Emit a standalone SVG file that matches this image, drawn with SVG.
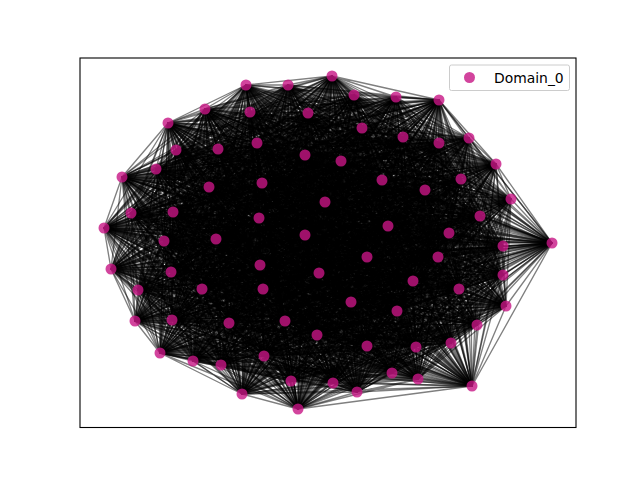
<svg xmlns="http://www.w3.org/2000/svg" width="640" height="480" viewBox="0 0 640 480">
<style>
.e polygon{fill:none;stroke:#000;stroke-opacity:.5;stroke-width:1.35;stroke-linejoin:round}
.nd circle{fill:#c71585;fill-opacity:.8}
.frame{fill:none;stroke:#000;stroke-width:1.1}
.lg{fill:#fff;fill-opacity:.8;stroke:#ccc;stroke-width:1}
.lt{font-family:"DejaVu Sans","Liberation Sans",sans-serif;font-size:13.9px;fill:#000}
</style>
<rect width="640" height="480" fill="#fff"/>
<g id="connectors" class="e">
<polygon points="552 243 332 76 288 85 333 383 246 85 291 381 205 109 392 373 168 123 264 356 122 177 221 365 104 228 451 343 111 269 416 347 135 321 367 346 160 353 477 325 193 361 317 335 242 394 285 321 298 409 229 323 357 392 172 320 418 379 397 311 472 386 351 302 506 306 459 289 503 275 263 289 503 246 202 289 511 199 138 290 496 164 413 281 469 138 171 272 439 100 319 273 396 97 260 265 354 95 438 257 250 112 367 257 308 113 305 235 362 128 216 239 403 137 164 241 439 143 449 233 176 150 388 226 218 149 259 218 257 143 480 216 305 155 325 202 341 161 173 212 156 169 131 213 382 180 262 183 461 179 209 187 425 190"/>
<polygon points="552 243 288 85 246 85 332 76 205 109 333 383 168 123 291 381 122 177 392 373 104 228 264 356 111 269 221 365 135 321 451 343 160 353 416 347 193 361 367 346 242 394 477 325 298 409 317 335 357 392 285 321 418 379 229 323 472 386 172 320 506 306 397 311 503 275 351 302 503 246 459 289 511 199 263 289 496 164 202 289 469 138 138 290 439 100 413 281 396 97 171 272 354 95 319 273 250 112 260 265 308 113 438 257 362 128 367 257 403 137 305 235 439 143 216 239 176 150 164 241 218 149 449 233 257 143 388 226 305 155 259 218 341 161 480 216 156 169 325 202 382 180 173 212 461 179 131 213 425 190 262 183 209 187"/>
<polygon points="552 243 246 85 205 109 288 85 168 123 332 76 122 177 333 383 104 228 291 381 111 269 392 373 135 321 264 356 160 353 221 365 193 361 451 343 242 394 416 347 298 409 367 346 357 392 477 325 418 379 317 335 472 386 285 321 506 306 229 323 503 275 172 320 503 246 397 311 511 199 351 302 496 164 459 289 469 138 263 289 439 100 202 289 396 97 138 290 354 95 413 281 250 112 171 272 308 113 319 273 362 128 260 265 403 137 438 257 439 143 367 257 176 150 305 235 218 149 216 239 257 143 164 241 305 155 449 233 341 161 388 226 156 169 259 218 382 180 480 216 461 179 325 202 425 190 173 212 209 187 131 213 262 183"/>
<polygon points="552 243 205 109 168 123 246 85 122 177 288 85 104 228 332 76 111 269 333 383 135 321 291 381 160 353 392 373 193 361 264 356 242 394 221 365 298 409 451 343 357 392 416 347 418 379 367 346 472 386 477 325 506 306 317 335 503 275 285 321 503 246 229 323 511 199 172 320 496 164 397 311 469 138 351 302 439 100 459 289 396 97 263 289 354 95 202 289 250 112 138 290 308 113 413 281 362 128 171 272 403 137 319 273 439 143 260 265 176 150 438 257 218 149 367 257 257 143 305 235 305 155 216 239 341 161 164 241 156 169 449 233 382 180 388 226 461 179 259 218 425 190 480 216 209 187 325 202 262 183 173 212 131 213"/>
<polygon points="552 243 168 123 122 177 205 109 104 228 246 85 111 269 288 85 135 321 332 76 160 353 333 383 193 361 291 381 242 394 392 373 298 409 264 356 357 392 221 365 418 379 451 343 472 386 416 347 506 306 367 346 503 275 477 325 503 246 317 335 511 199 285 321 496 164 229 323 469 138 172 320 439 100 397 311 396 97 351 302 354 95 459 289 250 112 263 289 308 113 202 289 362 128 138 290 403 137 413 281 439 143 171 272 176 150 319 273 218 149 260 265 257 143 438 257 305 155 367 257 341 161 305 235 156 169 216 239 382 180 164 241 461 179 449 233 425 190 388 226 209 187 259 218 262 183 480 216 131 213 325 202 173 212"/>
<polygon points="552 243 122 177 104 228 168 123 111 269 205 109 135 321 246 85 160 353 288 85 193 361 332 76 242 394 333 383 298 409 291 381 357 392 392 373 418 379 264 356 472 386 221 365 506 306 451 343 503 275 416 347 503 246 367 346 511 199 477 325 496 164 317 335 469 138 285 321 439 100 229 323 396 97 172 320 354 95 397 311 250 112 351 302 308 113 459 289 362 128 263 289 403 137 202 289 439 143 138 290 176 150 413 281 218 149 171 272 257 143 319 273 305 155 260 265 341 161 438 257 156 169 367 257 382 180 305 235 461 179 216 239 425 190 164 241 209 187 449 233 262 183 388 226 131 213 259 218 173 212 480 216 325 202"/>
<polygon points="552 243 104 228 111 269 122 177 135 321 168 123 160 353 205 109 193 361 246 85 242 394 288 85 298 409 332 76 357 392 333 383 418 379 291 381 472 386 392 373 506 306 264 356 503 275 221 365 503 246 451 343 511 199 416 347 496 164 367 346 469 138 477 325 439 100 317 335 396 97 285 321 354 95 229 323 250 112 172 320 308 113 397 311 362 128 351 302 403 137 459 289 439 143 263 289 176 150 202 289 218 149 138 290 257 143 413 281 305 155 171 272 341 161 319 273 156 169 260 265 382 180 438 257 461 179 367 257 425 190 305 235 209 187 216 239 262 183 164 241 131 213 449 233 173 212 388 226 325 202 259 218 480 216"/>
<polygon points="552 243 111 269 135 321 104 228 160 353 122 177 193 361 168 123 242 394 205 109 298 409 246 85 357 392 288 85 418 379 332 76 472 386 333 383 506 306 291 381 503 275 392 373 503 246 264 356 511 199 221 365 496 164 451 343 469 138 416 347 439 100 367 346 396 97 477 325 354 95 317 335 250 112 285 321 308 113 229 323 362 128 172 320 403 137 397 311 439 143 351 302 176 150 459 289 218 149 263 289 257 143 202 289 305 155 138 290 341 161 413 281 156 169 171 272 382 180 319 273 461 179 260 265 425 190 438 257 209 187 367 257 262 183 305 235 131 213 216 239 173 212 164 241 325 202 449 233 480 216 388 226 259 218"/>
<polygon points="552 243 135 321 160 353 111 269 193 361 104 228 242 394 122 177 298 409 168 123 357 392 205 109 418 379 246 85 472 386 288 85 506 306 332 76 503 275 333 383 503 246 291 381 511 199 392 373 496 164 264 356 469 138 221 365 439 100 451 343 396 97 416 347 354 95 367 346 250 112 477 325 308 113 317 335 362 128 285 321 403 137 229 323 439 143 172 320 176 150 397 311 218 149 351 302 257 143 459 289 305 155 263 289 341 161 202 289 156 169 138 290 382 180 413 281 461 179 171 272 425 190 319 273 209 187 260 265 262 183 438 257 131 213 367 257 173 212 305 235 325 202 216 239 480 216 164 241 259 218 449 233 388 226"/>
<polygon points="552 243 160 353 193 361 135 321 242 394 111 269 298 409 104 228 357 392 122 177 418 379 168 123 472 386 205 109 506 306 246 85 503 275 288 85 503 246 332 76 511 199 333 383 496 164 291 381 469 138 392 373 439 100 264 356 396 97 221 365 354 95 451 343 250 112 416 347 308 113 367 346 362 128 477 325 403 137 317 335 439 143 285 321 176 150 229 323 218 149 172 320 257 143 397 311 305 155 351 302 341 161 459 289 156 169 263 289 382 180 202 289 461 179 138 290 425 190 413 281 209 187 171 272 262 183 319 273 131 213 260 265 173 212 438 257 325 202 367 257 480 216 305 235 259 218 216 239 388 226 164 241 449 233"/>
<polygon points="552 243 193 361 242 394 160 353 298 409 135 321 357 392 111 269 418 379 104 228 472 386 122 177 506 306 168 123 503 275 205 109 503 246 246 85 511 199 288 85 496 164 332 76 469 138 333 383 439 100 291 381 396 97 392 373 354 95 264 356 250 112 221 365 308 113 451 343 362 128 416 347 403 137 367 346 439 143 477 325 176 150 317 335 218 149 285 321 257 143 229 323 305 155 172 320 341 161 397 311 156 169 351 302 382 180 459 289 461 179 263 289 425 190 202 289 209 187 138 290 262 183 413 281 131 213 171 272 173 212 319 273 325 202 260 265 480 216 438 257 259 218 367 257 388 226 305 235 449 233 216 239 164 241"/>
<polygon points="552 243 242 394 298 409 193 361 357 392 160 353 418 379 135 321 472 386 111 269 506 306 104 228 503 275 122 177 503 246 168 123 511 199 205 109 496 164 246 85 469 138 288 85 439 100 332 76 396 97 333 383 354 95 291 381 250 112 392 373 308 113 264 356 362 128 221 365 403 137 451 343 439 143 416 347 176 150 367 346 218 149 477 325 257 143 317 335 305 155 285 321 341 161 229 323 156 169 172 320 382 180 397 311 461 179 351 302 425 190 459 289 209 187 263 289 262 183 202 289 131 213 138 290 173 212 413 281 325 202 171 272 480 216 319 273 259 218 260 265 388 226 438 257 449 233 367 257 164 241 305 235 216 239"/>
<polygon points="552 243 298 409 357 392 242 394 418 379 193 361 472 386 160 353 506 306 135 321 503 275 111 269 503 246 104 228 511 199 122 177 496 164 168 123 469 138 205 109 439 100 246 85 396 97 288 85 354 95 332 76 250 112 333 383 308 113 291 381 362 128 392 373 403 137 264 356 439 143 221 365 176 150 451 343 218 149 416 347 257 143 367 346 305 155 477 325 341 161 317 335 156 169 285 321 382 180 229 323 461 179 172 320 425 190 397 311 209 187 351 302 262 183 459 289 131 213 263 289 173 212 202 289 325 202 138 290 480 216 413 281 259 218 171 272 388 226 319 273 449 233 260 265 164 241 438 257 216 239 367 257 305 235"/>
<polygon points="552 243 357 392 418 379 298 409 472 386 242 394 506 306 193 361 503 275 160 353 503 246 135 321 511 199 111 269 496 164 104 228 469 138 122 177 439 100 168 123 396 97 205 109 354 95 246 85 250 112 288 85 308 113 332 76 362 128 333 383 403 137 291 381 439 143 392 373 176 150 264 356 218 149 221 365 257 143 451 343 305 155 416 347 341 161 367 346 156 169 477 325 382 180 317 335 461 179 285 321 425 190 229 323 209 187 172 320 262 183 397 311 131 213 351 302 173 212 459 289 325 202 263 289 480 216 202 289 259 218 138 290 388 226 413 281 449 233 171 272 164 241 319 273 216 239 260 265 305 235 438 257 367 257"/>
<polygon points="552 243 418 379 472 386 357 392 506 306 298 409 503 275 242 394 503 246 193 361 511 199 160 353 496 164 135 321 469 138 111 269 439 100 104 228 396 97 122 177 354 95 168 123 250 112 205 109 308 113 246 85 362 128 288 85 403 137 332 76 439 143 333 383 176 150 291 381 218 149 392 373 257 143 264 356 305 155 221 365 341 161 451 343 156 169 416 347 382 180 367 346 461 179 477 325 425 190 317 335 209 187 285 321 262 183 229 323 131 213 172 320 173 212 397 311 325 202 351 302 480 216 459 289 259 218 263 289 388 226 202 289 449 233 138 290 164 241 413 281 216 239 171 272 305 235 319 273 367 257 260 265 438 257"/>
<polygon points="552 243 472 386 506 306 418 379 503 275 357 392 503 246 298 409 511 199 242 394 496 164 193 361 469 138 160 353 439 100 135 321 396 97 111 269 354 95 104 228 250 112 122 177 308 113 168 123 362 128 205 109 403 137 246 85 439 143 288 85 176 150 332 76 218 149 333 383 257 143 291 381 305 155 392 373 341 161 264 356 156 169 221 365 382 180 451 343 461 179 416 347 425 190 367 346 209 187 477 325 262 183 317 335 131 213 285 321 173 212 229 323 325 202 172 320 480 216 397 311 259 218 351 302 388 226 459 289 449 233 263 289 164 241 202 289 216 239 138 290 305 235 413 281 367 257 171 272 438 257 319 273 260 265"/>
<polygon points="552 243 506 306 503 275 472 386 503 246 418 379 511 199 357 392 496 164 298 409 469 138 242 394 439 100 193 361 396 97 160 353 354 95 135 321 250 112 111 269 308 113 104 228 362 128 122 177 403 137 168 123 439 143 205 109 176 150 246 85 218 149 288 85 257 143 332 76 305 155 333 383 341 161 291 381 156 169 392 373 382 180 264 356 461 179 221 365 425 190 451 343 209 187 416 347 262 183 367 346 131 213 477 325 173 212 317 335 325 202 285 321 480 216 229 323 259 218 172 320 388 226 397 311 449 233 351 302 164 241 459 289 216 239 263 289 305 235 202 289 367 257 138 290 438 257 413 281 260 265 171 272 319 273"/>
<polygon points="552 243 503 275 503 246 506 306 511 199 472 386 496 164 418 379 469 138 357 392 439 100 298 409 396 97 242 394 354 95 193 361 250 112 160 353 308 113 135 321 362 128 111 269 403 137 104 228 439 143 122 177 176 150 168 123 218 149 205 109 257 143 246 85 305 155 288 85 341 161 332 76 156 169 333 383 382 180 291 381 461 179 392 373 425 190 264 356 209 187 221 365 262 183 451 343 131 213 416 347 173 212 367 346 325 202 477 325 480 216 317 335 259 218 285 321 388 226 229 323 449 233 172 320 164 241 397 311 216 239 351 302 305 235 459 289 367 257 263 289 438 257 202 289 260 265 138 290 319 273 413 281 171 272"/>
<polygon points="552 243 503 246 511 199 503 275 496 164 506 306 469 138 472 386 439 100 418 379 396 97 357 392 354 95 298 409 250 112 242 394 308 113 193 361 362 128 160 353 403 137 135 321 439 143 111 269 176 150 104 228 218 149 122 177 257 143 168 123 305 155 205 109 341 161 246 85 156 169 288 85 382 180 332 76 461 179 333 383 425 190 291 381 209 187 392 373 262 183 264 356 131 213 221 365 173 212 451 343 325 202 416 347 480 216 367 346 259 218 477 325 388 226 317 335 449 233 285 321 164 241 229 323 216 239 172 320 305 235 397 311 367 257 351 302 438 257 459 289 260 265 263 289 319 273 202 289 171 272 138 290 413 281"/>
<polygon points="552 243 511 199 496 164 503 246 469 138 503 275 439 100 506 306 396 97 472 386 354 95 418 379 250 112 357 392 308 113 298 409 362 128 242 394 403 137 193 361 439 143 160 353 176 150 135 321 218 149 111 269 257 143 104 228 305 155 122 177 341 161 168 123 156 169 205 109 382 180 246 85 461 179 288 85 425 190 332 76 209 187 333 383 262 183 291 381 131 213 392 373 173 212 264 356 325 202 221 365 480 216 451 343 259 218 416 347 388 226 367 346 449 233 477 325 164 241 317 335 216 239 285 321 305 235 229 323 367 257 172 320 438 257 397 311 260 265 351 302 319 273 459 289 171 272 263 289 413 281 202 289 138 290"/>
<polygon points="552 243 496 164 469 138 511 199 439 100 503 246 396 97 503 275 354 95 506 306 250 112 472 386 308 113 418 379 362 128 357 392 403 137 298 409 439 143 242 394 176 150 193 361 218 149 160 353 257 143 135 321 305 155 111 269 341 161 104 228 156 169 122 177 382 180 168 123 461 179 205 109 425 190 246 85 209 187 288 85 262 183 332 76 131 213 333 383 173 212 291 381 325 202 392 373 480 216 264 356 259 218 221 365 388 226 451 343 449 233 416 347 164 241 367 346 216 239 477 325 305 235 317 335 367 257 285 321 438 257 229 323 260 265 172 320 319 273 397 311 171 272 351 302 413 281 459 289 138 290 263 289 202 289"/>
<polygon points="552 243 469 138 439 100 496 164 396 97 511 199 354 95 503 246 250 112 503 275 308 113 506 306 362 128 472 386 403 137 418 379 439 143 357 392 176 150 298 409 218 149 242 394 257 143 193 361 305 155 160 353 341 161 135 321 156 169 111 269 382 180 104 228 461 179 122 177 425 190 168 123 209 187 205 109 262 183 246 85 131 213 288 85 173 212 332 76 325 202 333 383 480 216 291 381 259 218 392 373 388 226 264 356 449 233 221 365 164 241 451 343 216 239 416 347 305 235 367 346 367 257 477 325 438 257 317 335 260 265 285 321 319 273 229 323 171 272 172 320 413 281 397 311 138 290 351 302 202 289 459 289 263 289"/>
<polygon points="552 243 439 100 396 97 469 138 354 95 496 164 250 112 511 199 308 113 503 246 362 128 503 275 403 137 506 306 439 143 472 386 176 150 418 379 218 149 357 392 257 143 298 409 305 155 242 394 341 161 193 361 156 169 160 353 382 180 135 321 461 179 111 269 425 190 104 228 209 187 122 177 262 183 168 123 131 213 205 109 173 212 246 85 325 202 288 85 480 216 332 76 259 218 333 383 388 226 291 381 449 233 392 373 164 241 264 356 216 239 221 365 305 235 451 343 367 257 416 347 438 257 367 346 260 265 477 325 319 273 317 335 171 272 285 321 413 281 229 323 138 290 172 320 202 289 397 311 263 289 351 302 459 289"/>
<polygon points="552 243 396 97 354 95 439 100 250 112 469 138 308 113 496 164 362 128 511 199 403 137 503 246 439 143 503 275 176 150 506 306 218 149 472 386 257 143 418 379 305 155 357 392 341 161 298 409 156 169 242 394 382 180 193 361 461 179 160 353 425 190 135 321 209 187 111 269 262 183 104 228 131 213 122 177 173 212 168 123 325 202 205 109 480 216 246 85 259 218 288 85 388 226 332 76 449 233 333 383 164 241 291 381 216 239 392 373 305 235 264 356 367 257 221 365 438 257 451 343 260 265 416 347 319 273 367 346 171 272 477 325 413 281 317 335 138 290 285 321 202 289 229 323 263 289 172 320 459 289 397 311 351 302"/>
<polygon points="552 243 354 95 250 112 396 97 308 113 439 100 362 128 469 138 403 137 496 164 439 143 511 199 176 150 503 246 218 149 503 275 257 143 506 306 305 155 472 386 341 161 418 379 156 169 357 392 382 180 298 409 461 179 242 394 425 190 193 361 209 187 160 353 262 183 135 321 131 213 111 269 173 212 104 228 325 202 122 177 480 216 168 123 259 218 205 109 388 226 246 85 449 233 288 85 164 241 332 76 216 239 333 383 305 235 291 381 367 257 392 373 438 257 264 356 260 265 221 365 319 273 451 343 171 272 416 347 413 281 367 346 138 290 477 325 202 289 317 335 263 289 285 321 459 289 229 323 351 302 172 320 397 311"/>
<polygon points="552 243 250 112 308 113 354 95 362 128 396 97 403 137 439 100 439 143 469 138 176 150 496 164 218 149 511 199 257 143 503 246 305 155 503 275 341 161 506 306 156 169 472 386 382 180 418 379 461 179 357 392 425 190 298 409 209 187 242 394 262 183 193 361 131 213 160 353 173 212 135 321 325 202 111 269 480 216 104 228 259 218 122 177 388 226 168 123 449 233 205 109 164 241 246 85 216 239 288 85 305 235 332 76 367 257 333 383 438 257 291 381 260 265 392 373 319 273 264 356 171 272 221 365 413 281 451 343 138 290 416 347 202 289 367 346 263 289 477 325 459 289 317 335 351 302 285 321 397 311 229 323 172 320"/>
<polygon points="552 243 308 113 362 128 250 112 403 137 354 95 439 143 396 97 176 150 439 100 218 149 469 138 257 143 496 164 305 155 511 199 341 161 503 246 156 169 503 275 382 180 506 306 461 179 472 386 425 190 418 379 209 187 357 392 262 183 298 409 131 213 242 394 173 212 193 361 325 202 160 353 480 216 135 321 259 218 111 269 388 226 104 228 449 233 122 177 164 241 168 123 216 239 205 109 305 235 246 85 367 257 288 85 438 257 332 76 260 265 333 383 319 273 291 381 171 272 392 373 413 281 264 356 138 290 221 365 202 289 451 343 263 289 416 347 459 289 367 346 351 302 477 325 397 311 317 335 172 320 285 321 229 323"/>
<polygon points="552 243 362 128 403 137 308 113 439 143 250 112 176 150 354 95 218 149 396 97 257 143 439 100 305 155 469 138 341 161 496 164 156 169 511 199 382 180 503 246 461 179 503 275 425 190 506 306 209 187 472 386 262 183 418 379 131 213 357 392 173 212 298 409 325 202 242 394 480 216 193 361 259 218 160 353 388 226 135 321 449 233 111 269 164 241 104 228 216 239 122 177 305 235 168 123 367 257 205 109 438 257 246 85 260 265 288 85 319 273 332 76 171 272 333 383 413 281 291 381 138 290 392 373 202 289 264 356 263 289 221 365 459 289 451 343 351 302 416 347 397 311 367 346 172 320 477 325 229 323 317 335 285 321"/>
<polygon points="552 243 403 137 439 143 362 128 176 150 308 113 218 149 250 112 257 143 354 95 305 155 396 97 341 161 439 100 156 169 469 138 382 180 496 164 461 179 511 199 425 190 503 246 209 187 503 275 262 183 506 306 131 213 472 386 173 212 418 379 325 202 357 392 480 216 298 409 259 218 242 394 388 226 193 361 449 233 160 353 164 241 135 321 216 239 111 269 305 235 104 228 367 257 122 177 438 257 168 123 260 265 205 109 319 273 246 85 171 272 288 85 413 281 332 76 138 290 333 383 202 289 291 381 263 289 392 373 459 289 264 356 351 302 221 365 397 311 451 343 172 320 416 347 229 323 367 346 285 321 477 325 317 335"/>
<polygon points="552 243 439 143 176 150 403 137 218 149 362 128 257 143 308 113 305 155 250 112 341 161 354 95 156 169 396 97 382 180 439 100 461 179 469 138 425 190 496 164 209 187 511 199 262 183 503 246 131 213 503 275 173 212 506 306 325 202 472 386 480 216 418 379 259 218 357 392 388 226 298 409 449 233 242 394 164 241 193 361 216 239 160 353 305 235 135 321 367 257 111 269 438 257 104 228 260 265 122 177 319 273 168 123 171 272 205 109 413 281 246 85 138 290 288 85 202 289 332 76 263 289 333 383 459 289 291 381 351 302 392 373 397 311 264 356 172 320 221 365 229 323 451 343 285 321 416 347 317 335 367 346 477 325"/>
<polygon points="552 243 176 150 218 149 439 143 257 143 403 137 305 155 362 128 341 161 308 113 156 169 250 112 382 180 354 95 461 179 396 97 425 190 439 100 209 187 469 138 262 183 496 164 131 213 511 199 173 212 503 246 325 202 503 275 480 216 506 306 259 218 472 386 388 226 418 379 449 233 357 392 164 241 298 409 216 239 242 394 305 235 193 361 367 257 160 353 438 257 135 321 260 265 111 269 319 273 104 228 171 272 122 177 413 281 168 123 138 290 205 109 202 289 246 85 263 289 288 85 459 289 332 76 351 302 333 383 397 311 291 381 172 320 392 373 229 323 264 356 285 321 221 365 317 335 451 343 477 325 416 347 367 346"/>
<polygon points="552 243 218 149 257 143 176 150 305 155 439 143 341 161 403 137 156 169 362 128 382 180 308 113 461 179 250 112 425 190 354 95 209 187 396 97 262 183 439 100 131 213 469 138 173 212 496 164 325 202 511 199 480 216 503 246 259 218 503 275 388 226 506 306 449 233 472 386 164 241 418 379 216 239 357 392 305 235 298 409 367 257 242 394 438 257 193 361 260 265 160 353 319 273 135 321 171 272 111 269 413 281 104 228 138 290 122 177 202 289 168 123 263 289 205 109 459 289 246 85 351 302 288 85 397 311 332 76 172 320 333 383 229 323 291 381 285 321 392 373 317 335 264 356 477 325 221 365 367 346 451 343 416 347"/>
<polygon points="552 243 257 143 305 155 218 149 341 161 176 150 156 169 439 143 382 180 403 137 461 179 362 128 425 190 308 113 209 187 250 112 262 183 354 95 131 213 396 97 173 212 439 100 325 202 469 138 480 216 496 164 259 218 511 199 388 226 503 246 449 233 503 275 164 241 506 306 216 239 472 386 305 235 418 379 367 257 357 392 438 257 298 409 260 265 242 394 319 273 193 361 171 272 160 353 413 281 135 321 138 290 111 269 202 289 104 228 263 289 122 177 459 289 168 123 351 302 205 109 397 311 246 85 172 320 288 85 229 323 332 76 285 321 333 383 317 335 291 381 477 325 392 373 367 346 264 356 416 347 221 365 451 343"/>
<polygon points="552 243 305 155 341 161 257 143 156 169 218 149 382 180 176 150 461 179 439 143 425 190 403 137 209 187 362 128 262 183 308 113 131 213 250 112 173 212 354 95 325 202 396 97 480 216 439 100 259 218 469 138 388 226 496 164 449 233 511 199 164 241 503 246 216 239 503 275 305 235 506 306 367 257 472 386 438 257 418 379 260 265 357 392 319 273 298 409 171 272 242 394 413 281 193 361 138 290 160 353 202 289 135 321 263 289 111 269 459 289 104 228 351 302 122 177 397 311 168 123 172 320 205 109 229 323 246 85 285 321 288 85 317 335 332 76 477 325 333 383 367 346 291 381 416 347 392 373 451 343 264 356 221 365"/>
<polygon points="552 243 341 161 156 169 305 155 382 180 257 143 461 179 218 149 425 190 176 150 209 187 439 143 262 183 403 137 131 213 362 128 173 212 308 113 325 202 250 112 480 216 354 95 259 218 396 97 388 226 439 100 449 233 469 138 164 241 496 164 216 239 511 199 305 235 503 246 367 257 503 275 438 257 506 306 260 265 472 386 319 273 418 379 171 272 357 392 413 281 298 409 138 290 242 394 202 289 193 361 263 289 160 353 459 289 135 321 351 302 111 269 397 311 104 228 172 320 122 177 229 323 168 123 285 321 205 109 317 335 246 85 477 325 288 85 367 346 332 76 416 347 333 383 451 343 291 381 221 365 392 373 264 356"/>
<polygon points="552 243 156 169 382 180 341 161 461 179 305 155 425 190 257 143 209 187 218 149 262 183 176 150 131 213 439 143 173 212 403 137 325 202 362 128 480 216 308 113 259 218 250 112 388 226 354 95 449 233 396 97 164 241 439 100 216 239 469 138 305 235 496 164 367 257 511 199 438 257 503 246 260 265 503 275 319 273 506 306 171 272 472 386 413 281 418 379 138 290 357 392 202 289 298 409 263 289 242 394 459 289 193 361 351 302 160 353 397 311 135 321 172 320 111 269 229 323 104 228 285 321 122 177 317 335 168 123 477 325 205 109 367 346 246 85 416 347 288 85 451 343 332 76 221 365 333 383 264 356 291 381 392 373"/>
<polygon points="552 243 382 180 461 179 156 169 425 190 341 161 209 187 305 155 262 183 257 143 131 213 218 149 173 212 176 150 325 202 439 143 480 216 403 137 259 218 362 128 388 226 308 113 449 233 250 112 164 241 354 95 216 239 396 97 305 235 439 100 367 257 469 138 438 257 496 164 260 265 511 199 319 273 503 246 171 272 503 275 413 281 506 306 138 290 472 386 202 289 418 379 263 289 357 392 459 289 298 409 351 302 242 394 397 311 193 361 172 320 160 353 229 323 135 321 285 321 111 269 317 335 104 228 477 325 122 177 367 346 168 123 416 347 205 109 451 343 246 85 221 365 288 85 264 356 332 76 392 373 333 383 291 381"/>
<polygon points="552 243 461 179 425 190 382 180 209 187 156 169 262 183 341 161 131 213 305 155 173 212 257 143 325 202 218 149 480 216 176 150 259 218 439 143 388 226 403 137 449 233 362 128 164 241 308 113 216 239 250 112 305 235 354 95 367 257 396 97 438 257 439 100 260 265 469 138 319 273 496 164 171 272 511 199 413 281 503 246 138 290 503 275 202 289 506 306 263 289 472 386 459 289 418 379 351 302 357 392 397 311 298 409 172 320 242 394 229 323 193 361 285 321 160 353 317 335 135 321 477 325 111 269 367 346 104 228 416 347 122 177 451 343 168 123 221 365 205 109 264 356 246 85 392 373 288 85 291 381 332 76 333 383"/>
</g>
<g id="nodes" class="nd">
<g id="node-inf"><circle cx="552" cy="243" r="5.5"/></g>
<g id="node-0"><circle cx="332" cy="76" r="5.5"/></g>
<g id="node-1"><circle cx="288" cy="85" r="5.5"/></g>
<g id="node-2"><circle cx="246" cy="85" r="5.5"/></g>
<g id="node-3"><circle cx="205" cy="109" r="5.5"/></g>
<g id="node-4"><circle cx="168" cy="123" r="5.5"/></g>
<g id="node-5"><circle cx="122" cy="177" r="5.5"/></g>
<g id="node-6"><circle cx="104" cy="228" r="5.5"/></g>
<g id="node-7"><circle cx="111" cy="269" r="5.5"/></g>
<g id="node-8"><circle cx="135" cy="321" r="5.5"/></g>
<g id="node-9"><circle cx="160" cy="353" r="5.5"/></g>
<g id="node-10"><circle cx="193" cy="361" r="5.5"/></g>
<g id="node-11"><circle cx="242" cy="394" r="5.5"/></g>
<g id="node-12"><circle cx="298" cy="409" r="5.5"/></g>
<g id="node-13"><circle cx="357" cy="392" r="5.5"/></g>
<g id="node-14"><circle cx="418" cy="379" r="5.5"/></g>
<g id="node-15"><circle cx="472" cy="386" r="5.5"/></g>
<g id="node-16"><circle cx="506" cy="306" r="5.5"/></g>
<g id="node-17"><circle cx="503" cy="275" r="5.5"/></g>
<g id="node-18"><circle cx="503" cy="246" r="5.5"/></g>
<g id="node-19"><circle cx="511" cy="199" r="5.5"/></g>
<g id="node-20"><circle cx="496" cy="164" r="5.5"/></g>
<g id="node-21"><circle cx="469" cy="138" r="5.5"/></g>
<g id="node-22"><circle cx="439" cy="100" r="5.5"/></g>
<g id="node-23"><circle cx="396" cy="97" r="5.5"/></g>
<g id="node-24"><circle cx="354" cy="95" r="5.5"/></g>
<g id="node-25"><circle cx="250" cy="112" r="5.5"/></g>
<g id="node-26"><circle cx="308" cy="113" r="5.5"/></g>
<g id="node-27"><circle cx="362" cy="128" r="5.5"/></g>
<g id="node-28"><circle cx="403" cy="137" r="5.5"/></g>
<g id="node-29"><circle cx="439" cy="143" r="5.5"/></g>
<g id="node-30"><circle cx="176" cy="150" r="5.5"/></g>
<g id="node-31"><circle cx="218" cy="149" r="5.5"/></g>
<g id="node-32"><circle cx="257" cy="143" r="5.5"/></g>
<g id="node-33"><circle cx="305" cy="155" r="5.5"/></g>
<g id="node-34"><circle cx="341" cy="161" r="5.5"/></g>
<g id="node-35"><circle cx="156" cy="169" r="5.5"/></g>
<g id="node-36"><circle cx="382" cy="180" r="5.5"/></g>
<g id="node-37"><circle cx="461" cy="179" r="5.5"/></g>
<g id="node-38"><circle cx="425" cy="190" r="5.5"/></g>
<g id="node-39"><circle cx="209" cy="187" r="5.5"/></g>
<g id="node-40"><circle cx="262" cy="183" r="5.5"/></g>
<g id="node-41"><circle cx="131" cy="213" r="5.5"/></g>
<g id="node-42"><circle cx="173" cy="212" r="5.5"/></g>
<g id="node-43"><circle cx="325" cy="202" r="5.5"/></g>
<g id="node-44"><circle cx="480" cy="216" r="5.5"/></g>
<g id="node-45"><circle cx="259" cy="218" r="5.5"/></g>
<g id="node-46"><circle cx="388" cy="226" r="5.5"/></g>
<g id="node-47"><circle cx="449" cy="233" r="5.5"/></g>
<g id="node-48"><circle cx="164" cy="241" r="5.5"/></g>
<g id="node-49"><circle cx="216" cy="239" r="5.5"/></g>
<g id="node-50"><circle cx="305" cy="235" r="5.5"/></g>
<g id="node-51"><circle cx="367" cy="257" r="5.5"/></g>
<g id="node-52"><circle cx="438" cy="257" r="5.5"/></g>
<g id="node-53"><circle cx="260" cy="265" r="5.5"/></g>
<g id="node-54"><circle cx="319" cy="273" r="5.5"/></g>
<g id="node-55"><circle cx="171" cy="272" r="5.5"/></g>
<g id="node-56"><circle cx="413" cy="281" r="5.5"/></g>
<g id="node-57"><circle cx="138" cy="290" r="5.5"/></g>
<g id="node-58"><circle cx="202" cy="289" r="5.5"/></g>
<g id="node-59"><circle cx="263" cy="289" r="5.5"/></g>
<g id="node-60"><circle cx="459" cy="289" r="5.5"/></g>
<g id="node-61"><circle cx="351" cy="302" r="5.5"/></g>
<g id="node-62"><circle cx="397" cy="311" r="5.5"/></g>
<g id="node-63"><circle cx="172" cy="320" r="5.5"/></g>
<g id="node-64"><circle cx="229" cy="323" r="5.5"/></g>
<g id="node-65"><circle cx="285" cy="321" r="5.5"/></g>
<g id="node-66"><circle cx="317" cy="335" r="5.5"/></g>
<g id="node-67"><circle cx="477" cy="325" r="5.5"/></g>
<g id="node-68"><circle cx="367" cy="346" r="5.5"/></g>
<g id="node-69"><circle cx="416" cy="347" r="5.5"/></g>
<g id="node-70"><circle cx="451" cy="343" r="5.5"/></g>
<g id="node-71"><circle cx="221" cy="365" r="5.5"/></g>
<g id="node-72"><circle cx="264" cy="356" r="5.5"/></g>
<g id="node-73"><circle cx="392" cy="373" r="5.5"/></g>
<g id="node-74"><circle cx="291" cy="381" r="5.5"/></g>
<g id="node-75"><circle cx="333" cy="383" r="5.5"/></g>
</g>
<rect class="frame" x="80" y="58" width="496" height="369.5"/>
<g id="legend">
<rect class="lg" x="449.5" y="65" width="120" height="25.5" rx="2"/>
<circle cx="469.5" cy="77.5" r="5.5" fill="#c71585" fill-opacity="0.8"/>
<text class="lt" x="494" y="82.5">Domain_0</text>
</g>
</svg>
